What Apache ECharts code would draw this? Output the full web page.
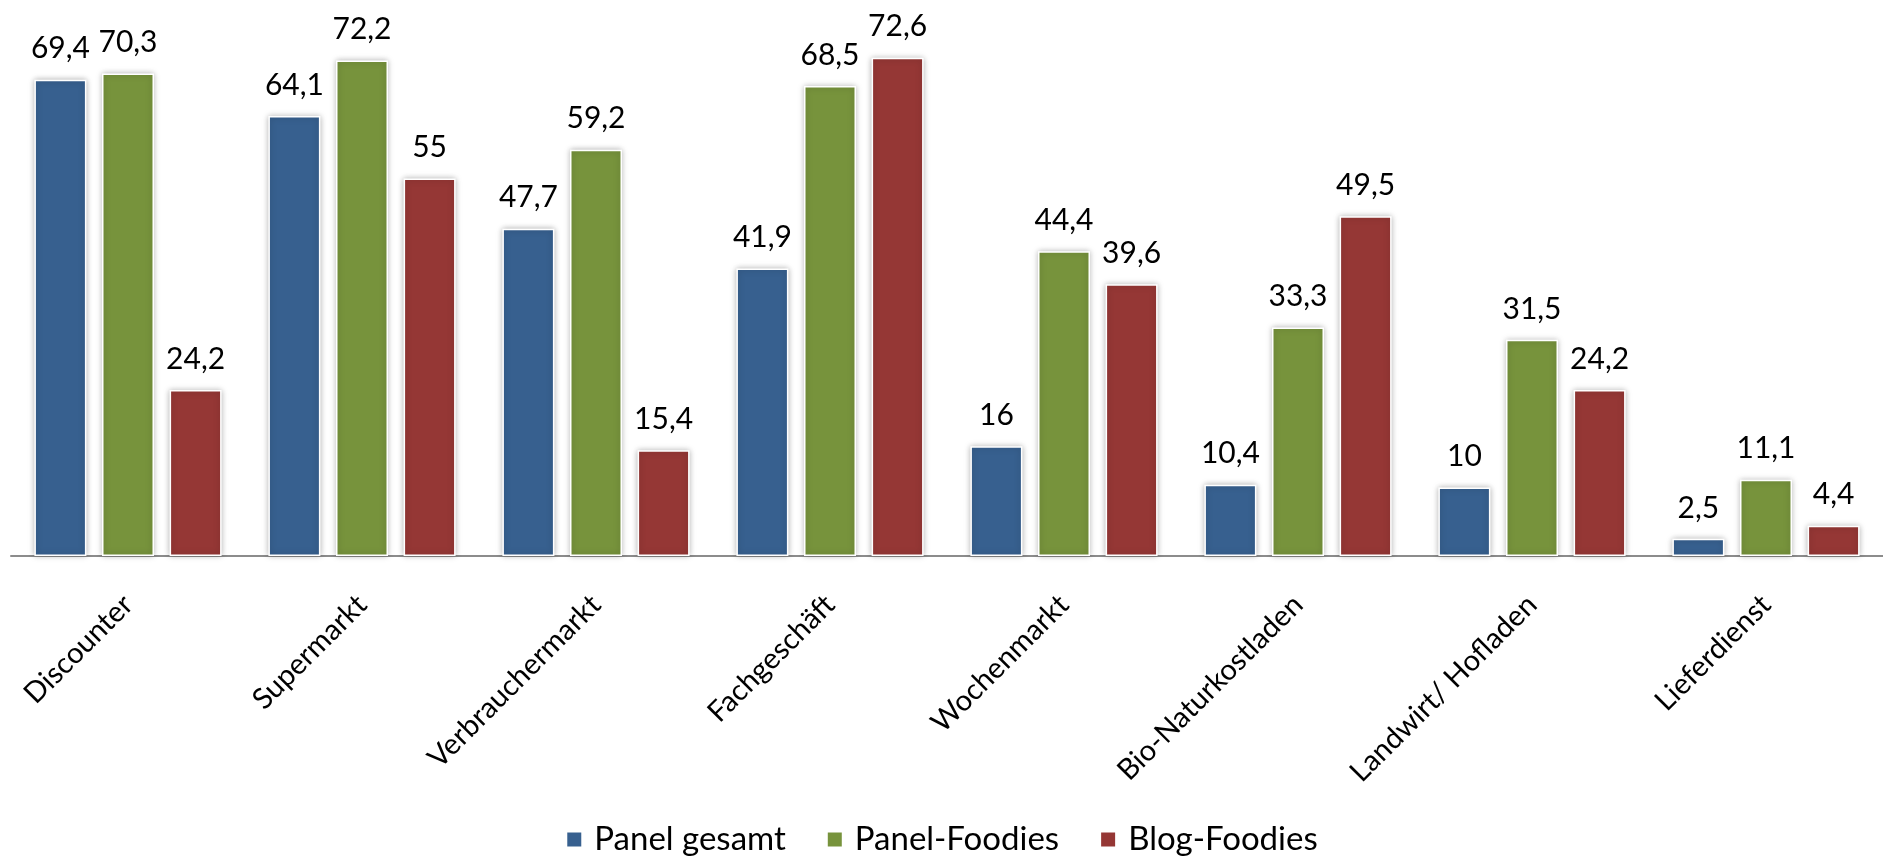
<!DOCTYPE html>
<html>
<head>
<meta charset="utf-8">
<script src="https://cdn.jsdelivr.net/npm/echarts@6/dist/echarts.min.js"></script>
<style>
html,body{margin:0;padding:0;background:#fff;}
#chart{width:1883px;height:861px;}
</style>
</head>
<body>
<div id="chart"></div>
<script>
const categories = ['Discounter','Supermarkt','Verbrauchermarkt','Fachgeschäft','Wochenmarkt','Bio-Naturkostladen','Landwirt/ Hofladen','Lieferdienst'];
const seriesNames = ['Panel gesamt','Panel-Foodies','Blog-Foodies'];
const panelGesamt = [69.4, 64.1, 47.7, 41.9, 16, 10.4, 10, 2.5];
const panelFoodies = [70.3, 72.2, 59.2, 68.5, 44.4, 33.3, 31.5, 11.1];
const blogFoodies = [24.2, 55, 15.4, 72.6, 39.6, 49.5, 24.2, 4.4];
const colors = ['#37608f', '#77933c', '#953735'];

const FONT = 'Lato, "Open Sans", sans-serif';
const chart = echarts.init(document.getElementById('chart'));
const dataSets = [panelGesamt, panelFoodies, blogFoodies];
chart.setOption({
  animation: false,
  color: colors,
  textStyle: { fontFamily: FONT },
  grid: { left: 11, right: 0, top: 7, bottom: 305, containLabel: false },
  legend: {
    bottom: 0,
    left: 'center',
    itemWidth: 16,
    itemHeight: 16,
    itemGap: 40,
    icon: 'rect',
    textStyle: { fontSize: 33, color: '#000', fontFamily: FONT, padding: [0, 0, 0, 7] },
    data: seriesNames
  },
  xAxis: {
    type: 'category',
    data: categories,
    axisLine: { lineStyle: { color: '#8c8c8c', width: 2 } },
    axisTick: { show: false },
    axisLabel: { rotate: 45, margin: 44, fontSize: 29, color: '#000', fontFamily: FONT, interval: 0 }
  },
  yAxis: {
    type: 'value',
    min: 0, max: 80,
    show: false,
    splitLine: { show: false }
  },
  series: dataSets.map((d, i) => ({
    name: seriesNames[i],
    type: 'bar',
    data: d,
    barGap: '30%',
    barCategoryGap: '20%',
    itemStyle: {
      color: colors[i],
      borderColor: '#fff',
      borderWidth: 1.5,
      shadowBlur: 6,
      shadowColor: 'rgba(0,0,0,0.28)',
      shadowOffsetX: 0,
      shadowOffsetY: 0
    },
    label: {
      show: true,
      position: 'top',
      distance: 16,
      fontSize: 30,
      color: '#000',
      fontFamily: FONT,
      formatter: p => String(p.value).replace('.', ',')
    }
  }))
});
</script>
</body>
</html>
